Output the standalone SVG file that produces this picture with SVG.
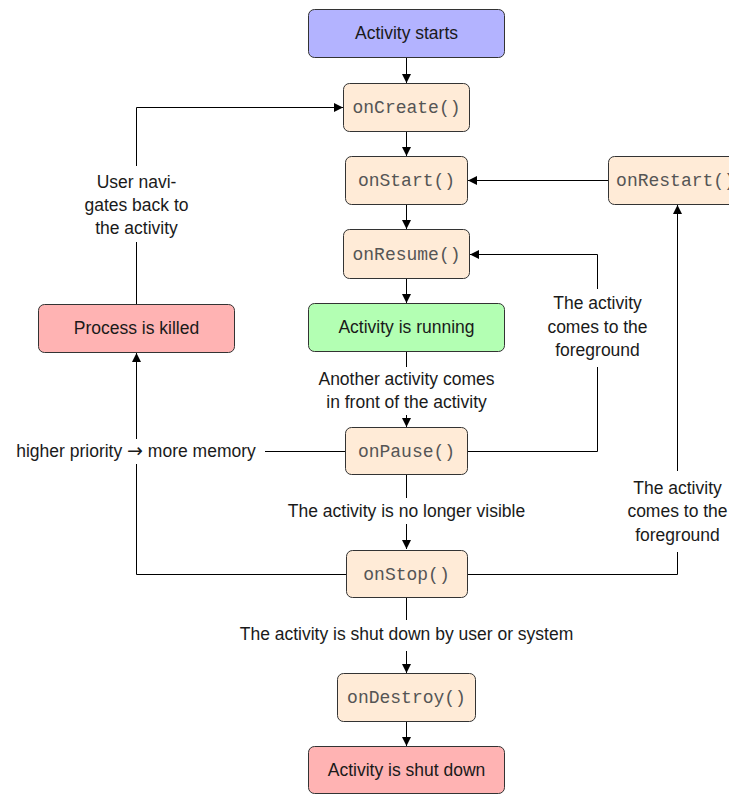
<svg xmlns="http://www.w3.org/2000/svg" width="729" height="794" viewBox="0 0 729 794">
<defs>
<marker id="arr" viewBox="0 0 10 10" refX="10" refY="5" markerWidth="9" markerHeight="9" markerUnits="userSpaceOnUse" orient="auto">
<path d="M0,0 L10,5 L0,10 z" fill="#000"/>
</marker>
<style>
.box{stroke:#333;stroke-width:1;}
.blue{fill:#b3b3ff;}
.green{fill:#b3ffb3;}
.red{fill:#ffb3b3;}
.cb{fill:#ffebd7;}
.t{font-family:"Liberation Sans",Arial,sans-serif;font-size:17.5px;fill:#1a1a1a;text-anchor:middle;}
.m{font-family:"Liberation Mono","Courier New",monospace;font-size:18px;fill:#555;text-anchor:middle;}
.c{fill:none;stroke:#000;stroke-width:1;}
.a{marker-end:url(#arr);}
.bg{fill:#fff;}
.ar{font-family:"DejaVu Sans",sans-serif;font-size:19px;}
</style>
</defs>
<rect width="729" height="794" fill="#fff"/>
<g id="connectors">
<path class="c a" d="M406.5,58 V83"/>
<path class="c a" d="M406.5,132 V156"/>
<path class="c a" d="M406.5,205 V229"/>
<path class="c a" d="M406.5,279 V303"/>
<path class="c a" d="M406.5,352 V427"/>
<path class="c a" d="M406.5,475 V549"/>
<path class="c a" d="M406.5,598 V673"/>
<path class="c a" d="M406.5,722 V746"/>
<path class="c a" d="M608,180.5 H468"/>
<path class="c a" d="M468,451.5 H597.5 V254.5 H470"/>
<path class="c a" d="M467,574.5 H677.5 V205"/>
<path class="c a" d="M346,574.5 H136.5 V353"/>
<path class="c a" d="M136.5,304 V107.5 H343"/>
<path class="c" d="M345,451.5 H265"/>
</g>
<g id="labels">
<rect class="bg" x="86" y="166" width="101" height="76"/>
<text class="t" x="136.5" y="188">User navi-</text>
<text class="t" x="136.5" y="211">gates back to</text>
<text class="t" x="136.5" y="234">the activity</text>
<rect class="bg" x="537" y="289" width="121" height="78"/>
<text class="t" x="597.5" y="309">The activity</text>
<text class="t" x="597.5" y="333">comes to the</text>
<text class="t" x="597.5" y="356">foreground</text>
<rect class="bg" x="310" y="367" width="193" height="48"/>
<text class="t" x="406.5" y="385">Another activity comes</text>
<text class="t" x="406.5" y="408">in front of the activity</text>
<rect class="bg" x="8" y="439" width="255" height="25"/>
<text class="t" x="136" y="457">higher priority <tspan class="ar">→</tspan> more memory</text>
<rect class="bg" x="280" y="498" width="253" height="26"/>
<text class="t" x="406.5" y="517">The activity is no longer visible</text>
<rect class="bg" x="620" y="471" width="115" height="81"/>
<text class="t" x="677.5" y="494">The activity</text>
<text class="t" x="677.5" y="517">comes to the</text>
<text class="t" x="677.5" y="541">foreground</text>
<rect class="bg" x="232" y="620" width="350" height="31"/>
<text class="t" x="406.5" y="640">The activity is shut down by user or system</text>
</g>
<g id="activity-starts"><rect class="box blue" x="308.5" y="9.5" width="196" height="48" rx="6"/><text class="t" x="406.5" y="39">Activity starts</text></g>
<g id="onCreate"><rect class="box cb" x="343.5" y="83.5" width="126" height="48" rx="6"/><text class="m" x="406.5" y="113">onCreate()</text></g>
<g id="onStart"><rect class="box cb" x="345.5" y="156.5" width="122" height="48" rx="6"/><text class="m" x="406.5" y="186">onStart()</text></g>
<g id="onRestart"><rect class="box cb" x="608.5" y="156.5" width="134" height="48" rx="6"/><text class="m" x="675.5" y="186">onRestart()</text></g>
<g id="onResume"><rect class="box cb" x="343.5" y="229.5" width="126" height="49" rx="6"/><text class="m" x="406.5" y="260">onResume()</text></g>
<g id="process-killed"><rect class="box red" x="38.5" y="304.5" width="196" height="48" rx="6"/><text class="t" x="136.5" y="334">Process is killed</text></g>
<g id="activity-running"><rect class="box green" x="308.5" y="303.5" width="196" height="48" rx="6"/><text class="t" x="406.5" y="333">Activity is running</text></g>
<g id="onPause"><rect class="box cb" x="345.5" y="427.5" width="122" height="47" rx="6"/><text class="m" x="406.5" y="457">onPause()</text></g>
<g id="onStop"><rect class="box cb" x="346.5" y="550.5" width="121" height="47" rx="6"/><text class="m" x="406.5" y="580">onStop()</text></g>
<g id="onDestroy"><rect class="box cb" x="337.5" y="673.5" width="138" height="48" rx="6"/><text class="m" x="406.5" y="703">onDestroy()</text></g>
<g id="activity-shut-down"><rect class="box red" x="308.5" y="746.5" width="196" height="47" rx="6"/><text class="t" x="406.5" y="776">Activity is shut down</text></g>
</svg>
